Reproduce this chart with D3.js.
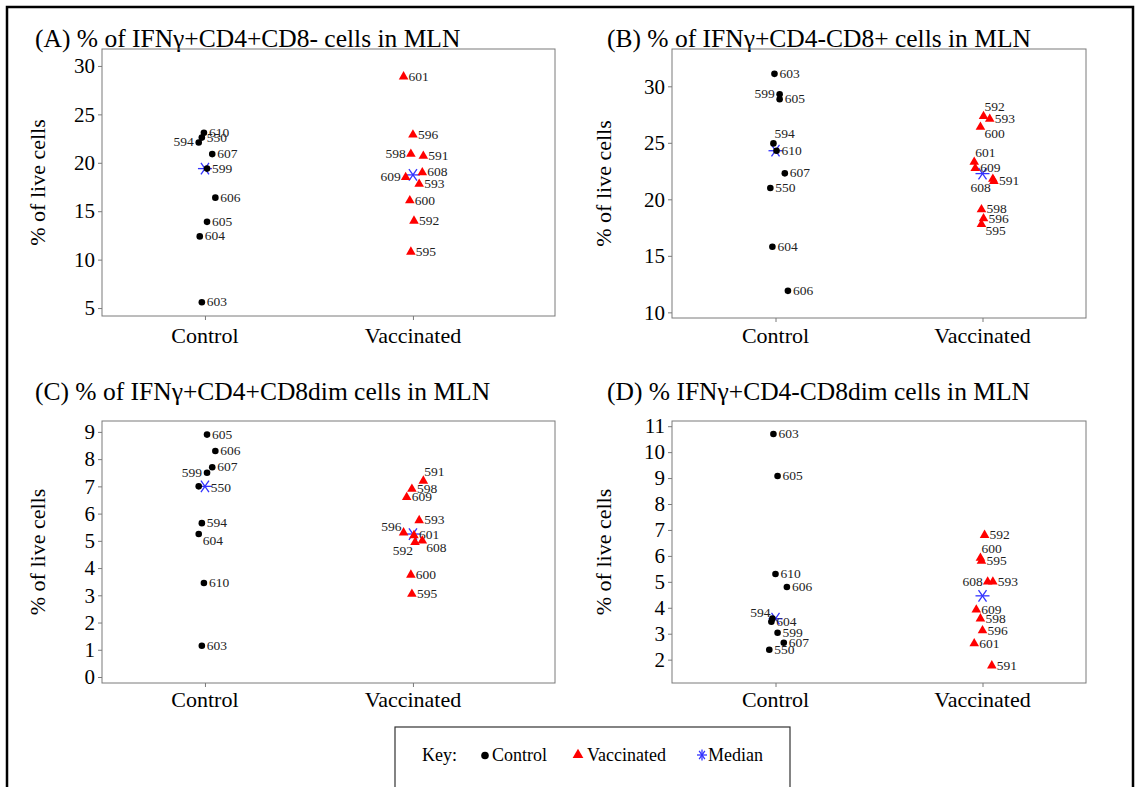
<!DOCTYPE html>
<html><head><meta charset="utf-8">
<script src="https://cdn.jsdelivr.net/npm/d3@7"></script>
<style>
body{margin:0;background:#fff}
svg{display:block}
svg text{font-family:"Liberation Serif","Times New Roman",serif !important}
</style>
</head><body>
<svg id="c" width="1139" height="787" font-family="Liberation Serif, Times New Roman, serif"></svg>
<script>
// ---------- data ----------
const groups = ["Control", "Vaccinated"];
const titles = [
  "(A) % of IFNγ+CD4+CD8- cells in MLN",
  "(B) % of IFNγ+CD4-CD8+ cells in MLN",
  "(C) % of IFNγ+CD4+CD8dim cells in MLN",
  "(D) % IFNγ+CD4-CD8dim cells in MLN"
];
const yAxisTitle = "% of live cells";

// Panel A
const aIds  = ["610","550","594","607","599","606","605","604","603","601","596","598","591","608","609","593","600","592","595"];
const aGrp  = [0,0,0,0,0,0,0,0,0,1,1,1,1,1,1,1,1,1,1];
const aVals = [23.1,22.6,22.1,20.9,19.4,16.4,13.9,12.4,5.6, 28.9,22.9,20.9,20.7,19.0,18.5,17.8,16.1,14.0,10.8];
const aJit  = [-0.005,-0.015,-0.03,0.035,0.01,0.05,0.01,-0.025,-0.015, -0.045,0,-0.01,0.05,0.045,-0.035,0.03,-0.015,0.005,-0.01];
const aLab  = ["r","r","l","r","r","r","r","r","r", "r","r","l","r","r","l","r","r","r","r"];
const aTicks = [5,10,15,20,25,30];

// Panel B
const bIds  = ["603","599","605","594","610","607","550","604","606","592","593","600","601","609","608","591","598","596","595"];
const bGrp  = [0,0,0,0,0,0,0,0,0,1,1,1,1,1,1,1,1,1,1];
const bVals = [31.1,29.3,28.85,24.95,24.3,22.3,21.0,15.8,11.9, 27.35,27.1,26.4,23.3,22.75,21.8,21.6,19.1,18.3,17.8];
const bJit  = [-0.005,0.02,0.02,-0.01,0.005,0.045,-0.025,-0.015,0.06, 0.005,0.035,-0.01,-0.04,-0.035,0.05,0.055,-0.005,0.005,-0.005];
const bLab  = ["r","l","r","ur","r","r","r","r","r", "ur","r","lr","ur","r","ll","r","r","r","lr"];
const bTicks = [10,15,20,25,30];

// Panel C
const cIds  = ["605","606","607","599","550","594","604","610","603","591","598","609","593","596","601","608","592","600","595"];
const cGrp  = [0,0,0,0,0,0,0,0,0,1,1,1,1,1,1,1,1,1,1];
const cVals = [8.9,8.3,7.7,7.5,7.0,5.65,5.25,3.45,1.15, 7.2,6.9,6.6,5.75,5.3,5.2,5.0,4.95,3.75,3.05];
const cJit  = [0.01,0.05,0.035,0.01,-0.03,-0.015,-0.03,-0.005,-0.015, 0.05,-0.005,-0.03,0.03,-0.045,0.005,0.045,0.01,-0.01,-0.005];
const cLab  = ["r","r","r","l","rr","r","lr","r","r", "ur","r","r","r","ul","r","lr","ll","r","r"];
const cTicks = [0,1,2,3,4,5,6,7,8,9];

// Panel D
const dIds  = ["603","605","610","606","594","604","599","607","550","592","600","595","608","593","609","598","596","601","591"];
const dGrp  = [0,0,0,0,0,0,0,0,0,1,1,1,1,1,1,1,1,1,1];
const dVals = [10.7,9.08,5.3,4.8,3.58,3.46,3.04,2.65,2.38, 6.8,5.92,5.8,5.0,5.0,3.92,3.58,3.12,2.62,1.77];
const dJit  = [-0.01,0.01,0,0.055,-0.015,-0.02,0.01,0.04,-0.03, 0.01,-0.01,-0.005,0.025,0.05,-0.03,-0.01,0,-0.04,0.045];
const dLab  = ["r","r","r","r","ul","r","r","r","r", "r","ur","r","l","r","r","r","r","r","r"];
const dTicks = [2,3,4,5,6,7,8,9,10,11];

const legendItems = ["Control", "Vaccinated", "Median"];

// ---------- layout ----------
const FONT = "Liberation Serif, Times New Roman, serif";
const panels = [
  {ids:aIds, grp:aGrp, vals:aVals, jit:aJit, lab:aLab, ticks:aTicks, title:titles[0],
   tx:35, ty:47, box:[102,49,555,316], xdom:[0.505,2.683], ydom:[4.18,31.75], ylx:37, caty:343},
  {ids:bIds, grp:bGrp, vals:bVals, jit:bJit, lab:bLab, ticks:bTicks, title:titles[1],
   tx:607, ty:47, box:[672,49,1086,318], xdom:[0.5,2.5], ydom:[9.5,33.3], ylx:603, caty:343},
  {ids:cIds, grp:cGrp, vals:cVals, jit:cJit, lab:cLab, ticks:cTicks, title:titles[2],
   tx:35, ty:400, box:[102,421,555,683], xdom:[0.505,2.683], ydom:[-0.22,9.4], ylx:37, caty:707},
  {ids:dIds, grp:dGrp, vals:dVals, jit:dJit, lab:dLab, ticks:dTicks, title:titles[3],
   tx:607, ty:400, box:[672,421,1086,683], xdom:[0.5,2.5], ydom:[1.1,11.2], ylx:603, caty:707}
];

const labOff = {
  r:  {dx:5,  dy:4,  a:"start"},
  rr: {dx:12, dy:6,  a:"start"},
  l:  {dx:-5, dy:4,  a:"end"},
  ur: {dx:1,  dy:-5, a:"start"},
  ul: {dx:-2, dy:-2, a:"end"},
  lr: {dx:4,  dy:11, a:"start"},
  ll: {dx:-2, dy:13, a:"end"}
};

const svg = d3.select("#c");
svg.append("rect").attr("width",1139).attr("height",787).attr("fill","#fff");
svg.append("path").attr("d","M7,787 V7 H1133 V787").attr("fill","none").attr("stroke","#000").attr("stroke-width",2.5);

const tri = d3.symbol().type(d3.symbolTriangle).size(40);

function star(g, x, y, s, color) {
  [0, 55, 125].forEach(a => {
    const r = a * Math.PI / 180;
    g.append("line").attr("x1", x - s*Math.cos(r)).attr("y1", y - s*Math.sin(r))
      .attr("x2", x + s*Math.cos(r)).attr("y2", y + s*Math.sin(r))
      .attr("stroke", color).attr("stroke-width", 1.3);
  });
}

function txt(g, x, y, size, s) {
  return g.append("text").attr("x",x).attr("y",y).attr("font-size",size)
    .attr("font-family",FONT).attr("fill","#000").text(s);
}

panels.forEach(p => {
  const [x0,y0,x1,y1] = p.box;
  const x = d3.scaleLinear().domain(p.xdom).range([x0,x1]);
  const y = d3.scaleLinear().domain(p.ydom).range([y1,y0]);
  const g = svg.append("g");

  txt(g, p.tx, p.ty, 25.5, p.title);

  g.append("rect").attr("x",x0).attr("y",y0).attr("width",x1-x0).attr("height",y1-y0)
    .attr("fill","none").attr("stroke","#7a7a7a").attr("stroke-width",1);

  const ya = g.append("g").attr("transform",`translate(${x0},0)`)
    .call(d3.axisLeft(y).tickValues(p.ticks).tickSize(4).tickPadding(3).tickFormat(d3.format("d")));
  ya.attr("font-family",FONT);
  ya.select(".domain").remove();
  ya.selectAll("line").attr("stroke","#7a7a7a");
  ya.selectAll("text").attr("font-size",21).attr("fill","#000").attr("font-family",FONT);

  const xa = g.append("g").attr("transform",`translate(0,${y1})`)
    .call(d3.axisBottom(x).tickValues([1,2]).tickSize(4).tickFormat(""));
  xa.select(".domain").remove();
  xa.selectAll("line").attr("stroke","#7a7a7a");

  groups.forEach((gname,i) => {
    txt(g, x(i+1), p.caty, 22, gname).attr("text-anchor","middle");
  });

  g.append("text").attr("transform",`translate(${p.ylx},${(y0+y1)/2}) rotate(-90)`)
    .attr("text-anchor","middle").attr("dominant-baseline","central")
    .attr("font-family",FONT).attr("font-size",22).attr("fill","#000").text(yAxisTitle);

  groups.forEach((gname,i) => {
    const vs = p.vals.filter((v,k) => p.grp[k] === i);
    star(g, x(i+1), y(d3.median(vs)), 7, "#3333ff");
  });

  p.vals.forEach((v,k) => {
    const cx = x(p.grp[k] + 1 + p.jit[k]);
    const cy = y(v);
    if (p.grp[k] === 0) {
      g.append("circle").attr("cx",cx).attr("cy",cy).attr("r",3.3).attr("fill","#000");
    } else {
      g.append("path").attr("d",tri()).attr("transform",`translate(${cx},${cy})`).attr("fill","#ff0000");
    }
    const o = labOff[p.lab[k]];
    g.append("text").attr("x",cx+o.dx).attr("y",cy+o.dy).attr("text-anchor",o.a)
      .attr("font-family",FONT).attr("font-size",13.5).attr("fill","#222").text(p.ids[k]);
  });
});

// legend
const lg = svg.append("g");
lg.append("rect").attr("x",395).attr("y",727).attr("width",395).attr("height",80)
  .attr("fill","#fff").attr("stroke","#333").attr("stroke-width",1.2);
txt(lg, 422, 761, 18, "Key:");
lg.append("circle").attr("cx",485).attr("cy",755.5).attr("r",3.8).attr("fill","#000");
txt(lg, 492, 761, 18, legendItems[0]);
lg.append("path").attr("d",d3.symbol().type(d3.symbolTriangle).size(50)()).attr("transform","translate(578,755)").attr("fill","#ff0000");
txt(lg, 587, 761, 18, legendItems[1]);
star(lg, 702, 755, 5, "#3333ff");
lg.append("line").attr("x1",702).attr("y1",749.5).attr("x2",702).attr("y2",760.5).attr("stroke","#3333ff").attr("stroke-width",1.3);
txt(lg, 708, 761, 18, legendItems[2]);
</script>
</body></html>
